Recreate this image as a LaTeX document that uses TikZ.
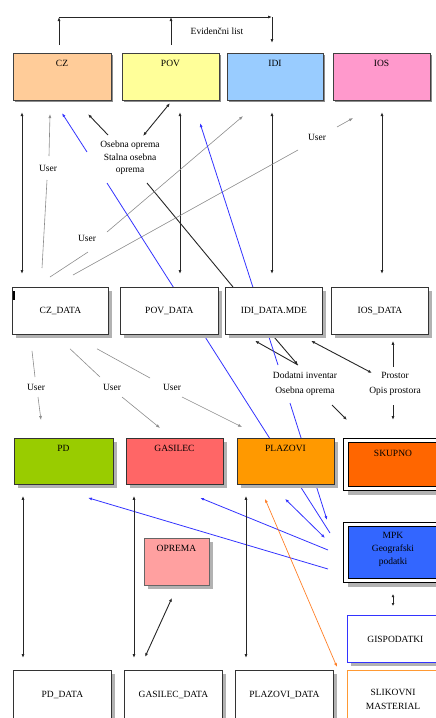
\documentclass[tikz,border=0pt]{standalone}
\usepackage{fontspec}
\setmainfont{Liberation Serif}
\usetikzlibrary{arrows.meta,calc,shadows}
\definecolor{czc}{HTML}{FFCC99}
\definecolor{povc}{HTML}{FFFF99}
\definecolor{idic}{HTML}{99CCFF}
\definecolor{iosc}{HTML}{FF99CC}
\definecolor{pdc}{HTML}{99CC00}
\definecolor{gasc}{HTML}{FF6666}
\definecolor{plac}{HTML}{FF9900}
\definecolor{skuc}{HTML}{FF6600}
\definecolor{mpkc}{HTML}{3366FF}
\definecolor{oprc}{HTML}{FFA0A0}
\definecolor{bluel}{HTML}{3333FF}
\definecolor{orangel}{HTML}{FF7F27}
\definecolor{sliborder}{HTML}{FF9933}
\pgfdeclarelayer{bg}
\pgfsetlayers{bg,main}
\begin{document}
\begin{tikzpicture}[x=1pt,y=-1pt,
  every node/.style={font=\fontsize{9.5}{12.5}\selectfont},
  >={Latex[length=4pt,width=3pt]},
  box/.style={draw=black!80, line width=0.8pt, anchor=north west, inner sep=0pt},
  tbox/.style={draw=black!75, line width=1.1pt, anchor=north west, inner sep=0pt},
  tshadow/.style={drop shadow={shadow xshift=1.5pt,shadow yshift=-1.5pt,fill=black!45,opacity=1}},
  dshadow/.style={drop shadow={shadow xshift=4pt,shadow yshift=-4pt,fill=black!30,opacity=1}},
  lbl/.style={align=center, inner sep=1pt},
  blk/.style={draw=black!85, line width=0.9pt},
  gry/.style={draw=black!45, line width=0.6pt},
  blu/.style={draw=bluel, line width=0.8pt},
  org/.style={draw=orangel, line width=0.7pt}
]
\useasboundingbox (0,0) rectangle (436,718);

% ---------- row 1
\node[tbox, tshadow, fill=czc, minimum width=98pt, minimum height=47pt] (CZ) at (13,53) {};
\node[tbox, tshadow, fill=povc, minimum width=97pt, minimum height=47pt] (POV) at (122,53) {};
\node[tbox, tshadow, fill=idic, minimum width=96pt, minimum height=47pt] (IDI) at (227,53) {};
\node[tbox, tshadow, fill=iosc, minimum width=97pt, minimum height=47pt] (IOS) at (333,53) {};
\node (CZt) at (62,63) {CZ};
\node (POVt) at (170.5,63) {POV};
\node (IDIt) at (275,63) {IDI};
\node (IOSt) at (381.5,63) {IOS};

% ---------- row 2
\node[box, dshadow, fill=white, minimum width=96pt, minimum height=47pt] (CZD) at (12,287) {CZ\_DATA};
\node[box, dshadow, fill=white, minimum width=98pt, minimum height=47pt] (POVD) at (120,287) {POV\_DATA};
\node[box, dshadow, fill=white, minimum width=97pt, minimum height=47pt] (IDID) at (225,287) {IDI\_DATA.MDE};
\node[box, dshadow, fill=white, minimum width=97pt, minimum height=47pt] (IOSD) at (331,287) {IOS\_DATA};

% ---------- row 3
\node[box, dshadow, fill=pdc, minimum width=99pt, minimum height=46pt] (PD) at (14,438) {};
\node[box, dshadow, fill=gasc, minimum width=97pt, minimum height=46pt] (GAS) at (126,438) {};
\node[box, dshadow, fill=plac, minimum width=97pt, minimum height=46pt] (PLA) at (237,438) {};
\node (PDt) at (63.5,448) {PD};
\node (GASt) at (174.5,448) {GASILEC};
\node (PLAt) at (285.5,448) {PLAZOVI};

\node[box, dshadow, fill=white, draw=black, line width=1.1pt, minimum width=100pt, minimum height=52pt] (SKU) at (343,438) {};
\node[box, fill=skuc, draw=black, line width=1.1pt, minimum width=100pt, minimum height=44pt] (SKUi) at (347.5,442) {};
\node (SKUt) at (393,453) {SKUPNO};

\node[box, dshadow, fill=white, draw=black, line width=1.1pt, minimum width=100pt, minimum height=60pt] (MPK) at (343,522) {};
\node[box, fill=mpkc, draw=black, line width=1.1pt, minimum width=100pt, minimum height=52pt] (MPKi) at (347.5,526) {};
\node[lbl, font=\fontsize{9.5}{13}\selectfont] (MPKt) at (393,549) {MPK\\Geografski\\podatki};

\node[box, dshadow, fill=white, draw=bluel, minimum width=96pt, minimum height=47pt] (GIS) at (347,615) {GISPODATKI};
\node[box, fill=white, draw=sliborder, minimum width=96pt, minimum height=60pt] (SLI) at (347,670) {};
\node[lbl, font=\fontsize{9.5}{14}\selectfont] (SLIt) at (393,699) {SLIKOVNI\\MASTERIAL};

\node[box, dshadow, fill=oprc, draw=black!60, minimum width=65pt, minimum height=47pt] (OPR) at (144,538) {};
\node (OPRt) at (176.5,548) {OPREMA};

% ---------- row 4
\node[box, dshadow, fill=white, minimum width=98pt, minimum height=49pt] (PDD) at (13,670) {PD\_DATA};
\node[box, dshadow, fill=white, minimum width=98pt, minimum height=49pt] (GASD) at (124,670) {GASILEC\_DATA};
\node[box, dshadow, fill=white, minimum width=98pt, minimum height=49pt] (PLAD) at (235,670) {PLAZOVI\_DATA};

% cursor mark
\draw[line width=1.6pt] ($(CZD.north west)+(2,4)$) -- ($(CZD.north west)+(2,13)$);

% ---------- labels
\node[lbl] (ev) at (217,31) {Evidenčni list};
\node[lbl, font=\fontsize{9.5}{12.5}\selectfont] (os) at (130,158) {Osebna oprema\\Stalna osebna\\oprema};
\node[lbl] (u1) at (48,168) {User};
\node[lbl] (u2) at (87,238) {User};
\node[lbl] (u3) at (317,137) {User};
\node[lbl] (u4) at (36,387) {User};
\node[lbl] (u5) at (112,387) {User};
\node[lbl] (u6) at (172,387) {User};
\node[lbl, font=\fontsize{9.5}{15}\selectfont] (dod) at (305,384) {Dodatni inventar\\Osebna oprema};
\node[lbl, font=\fontsize{9.5}{15}\selectfont] (pro) at (395,384) {Prostor\\Opis prostora};

\coordinate (b1) at (59,17);
\coordinate (b2) at (171,17);
\coordinate (b3) at (272,17);

\begin{pgfonlayer}{bg}
% top bracket
\draw[blk,->] ($(CZ.north west)+(46,-8)$) -- (b1);
\draw[blk,->] ($(POV.north west)+(49,-8)$) -- (b2);
\draw[blk,->] (b1) -- (b3);
\draw[blk,->] (b3) -- ($(IDI.north west)+(45,-10)$);

% row1 <-> row2
\draw[blk,<->] ($(CZ.south west)+(9,11)$) -- ($(CZD.north west)+(10,-13)$);
\draw[blk,<->] ($(POV.south west)+(58,11)$) -- ($(POVD.north west)+(60,-13)$);
\draw[blk,<->] ($(IDI.south west)+(45,11)$) -- ($(IDID.north west)+(47,-13)$);
\draw[blk,<->] ($(IOS.south west)+(49,11)$) -- ($(IOSD.north west)+(51,-13)$);

% Osebna oprema
\draw[blk,->] ($(os)+(-22,-23)$) -- ($(CZ.south west)+(75,13)$);
\draw[blk,<->] ($(os)+(13,-22)$) -- ($(POV.south west)+(48,2)$);
\draw[blk] ($(os)+(17,25)$) -- ($(IDID.north west)+(8,0)$);

% User (upper)
\draw[gry] ($(CZD.north west)+(30,-19)$) -- ($(u1)+(-1,12)$);
\draw[gry,->] ($(u1)+(1,-12)$) -- ($(CZ.south west)+(37,13)$);
\draw[gry] ($(CZD.north west)+(38,-10)$) -- ($(u2)+(1,14)$);
\draw[gry,->] ($(u2)+(20,-6)$) -- ($(IDI.south west)+(16,15)$);
\draw[gry] ($(CZD.north west)+(61,-12)$) -- ($(u3)+(-19,13)$);
\draw[gry,->] ($(u3)+(20,-10)$) -- ($(IOS.south west)+(20,17)$);

% User (lower)
\draw[gry] ($(CZD.south west)+(20,16)$) -- ($(u4)+(-1,-10)$);
\draw[gry,->] ($(u4)+(2,10)$) -- ($(PD.north west)+(27,-18)$);
\draw[gry] ($(CZD.south west)+(58,14)$) -- ($(u5)+(-12,-10)$);
\draw[gry,->] ($(u5)+(10,10)$) -- ($(GAS.north west)+(34,-10)$);
\draw[gry] ($(CZD.south west)+(85,14)$) -- ($(u6)+(-22,-9)$);
\draw[gry,->] ($(u6)+(10,10)$) -- ($(PLA.north west)+(5,-11)$);

% Dodatni inventar
\draw[blk,->] ($(IDID.south west)+(48,1)$) -- ($(dod)+(-7,-19)$);
\draw[blk,->] ($(dod)+(-7,-19)$) -- ($(IDID.south west)+(30,6)$);
\draw[blk,->] ($(dod)+(27,21)$) -- ($(SKU.north west)+(4,-18)$);

% Prostor
\draw[blk,->] ($(pro)+(-2,-17)$) -- ($(IOSD.south west)+(62,6)$);
\draw[blk,<->] ($(IDID.south west)+(86,6)$) -- ($(pro)+(-23,-11)$);
\draw[blk,->] ($(pro)+(-2,21)$) -- ($(SKU.north west)+(50,-18)$);

% blue
\draw[blu,->] ($(os)+(-43,-6)$) -- ($(CZ.south west)+(49,12)$);
\draw[blu] ($(MPK.north west)+(-13,11)$) -- ($(os)+(-23,25)$);
\draw[blu,->] ($(dod)+(-27,-19)$) -- ($(POV.south west)+(78,22)$);
\draw[blu,->] ($(dod)+(-15,19)$) -- ($(MPK.north west)+(-16,-2)$);
\draw[blu,<->] ($(PLA.south west)+(48,14)$) -- ($(MPK.north west)+(-18,16)$);
\draw[blu,->] ($(MPK.north west)+(-15,28)$) -- ($(GAS.south west)+(74,13)$);
\draw[blu,->] ($(MPK.north west)+(-15,47)$) -- ($(PD.south west)+(74,13)$);

% orange
\draw[org,<->] ($(PLA.south west)+(28,14)$) -- ($(SLI.north west)+(-10,-3)$);

% row3 <-> row4
\draw[blk,<->] ($(PD.south west)+(9,11)$) -- ($(PDD.north west)+(10,-12)$);
\draw[blk,<->] ($(GAS.south west)+(8,11)$) -- ($(GASD.north west)+(10,-12)$);
\draw[blk,<->] ($(PLA.south west)+(9,11)$) -- ($(PLAD.north west)+(11,-12)$);
\draw[blk,<->] ($(OPR.south west)+(28,12)$) -- ($(GASD.north west)+(21,-13)$);
\draw[blk,{Latex[length=3pt,width=3pt]}-{Latex[length=3pt,width=3pt]}] ($(MPK.south west)+(50,11)$) -- ($(GIS.north west)+(46,-9)$);
\end{pgfonlayer}
\end{tikzpicture}
\end{document}
